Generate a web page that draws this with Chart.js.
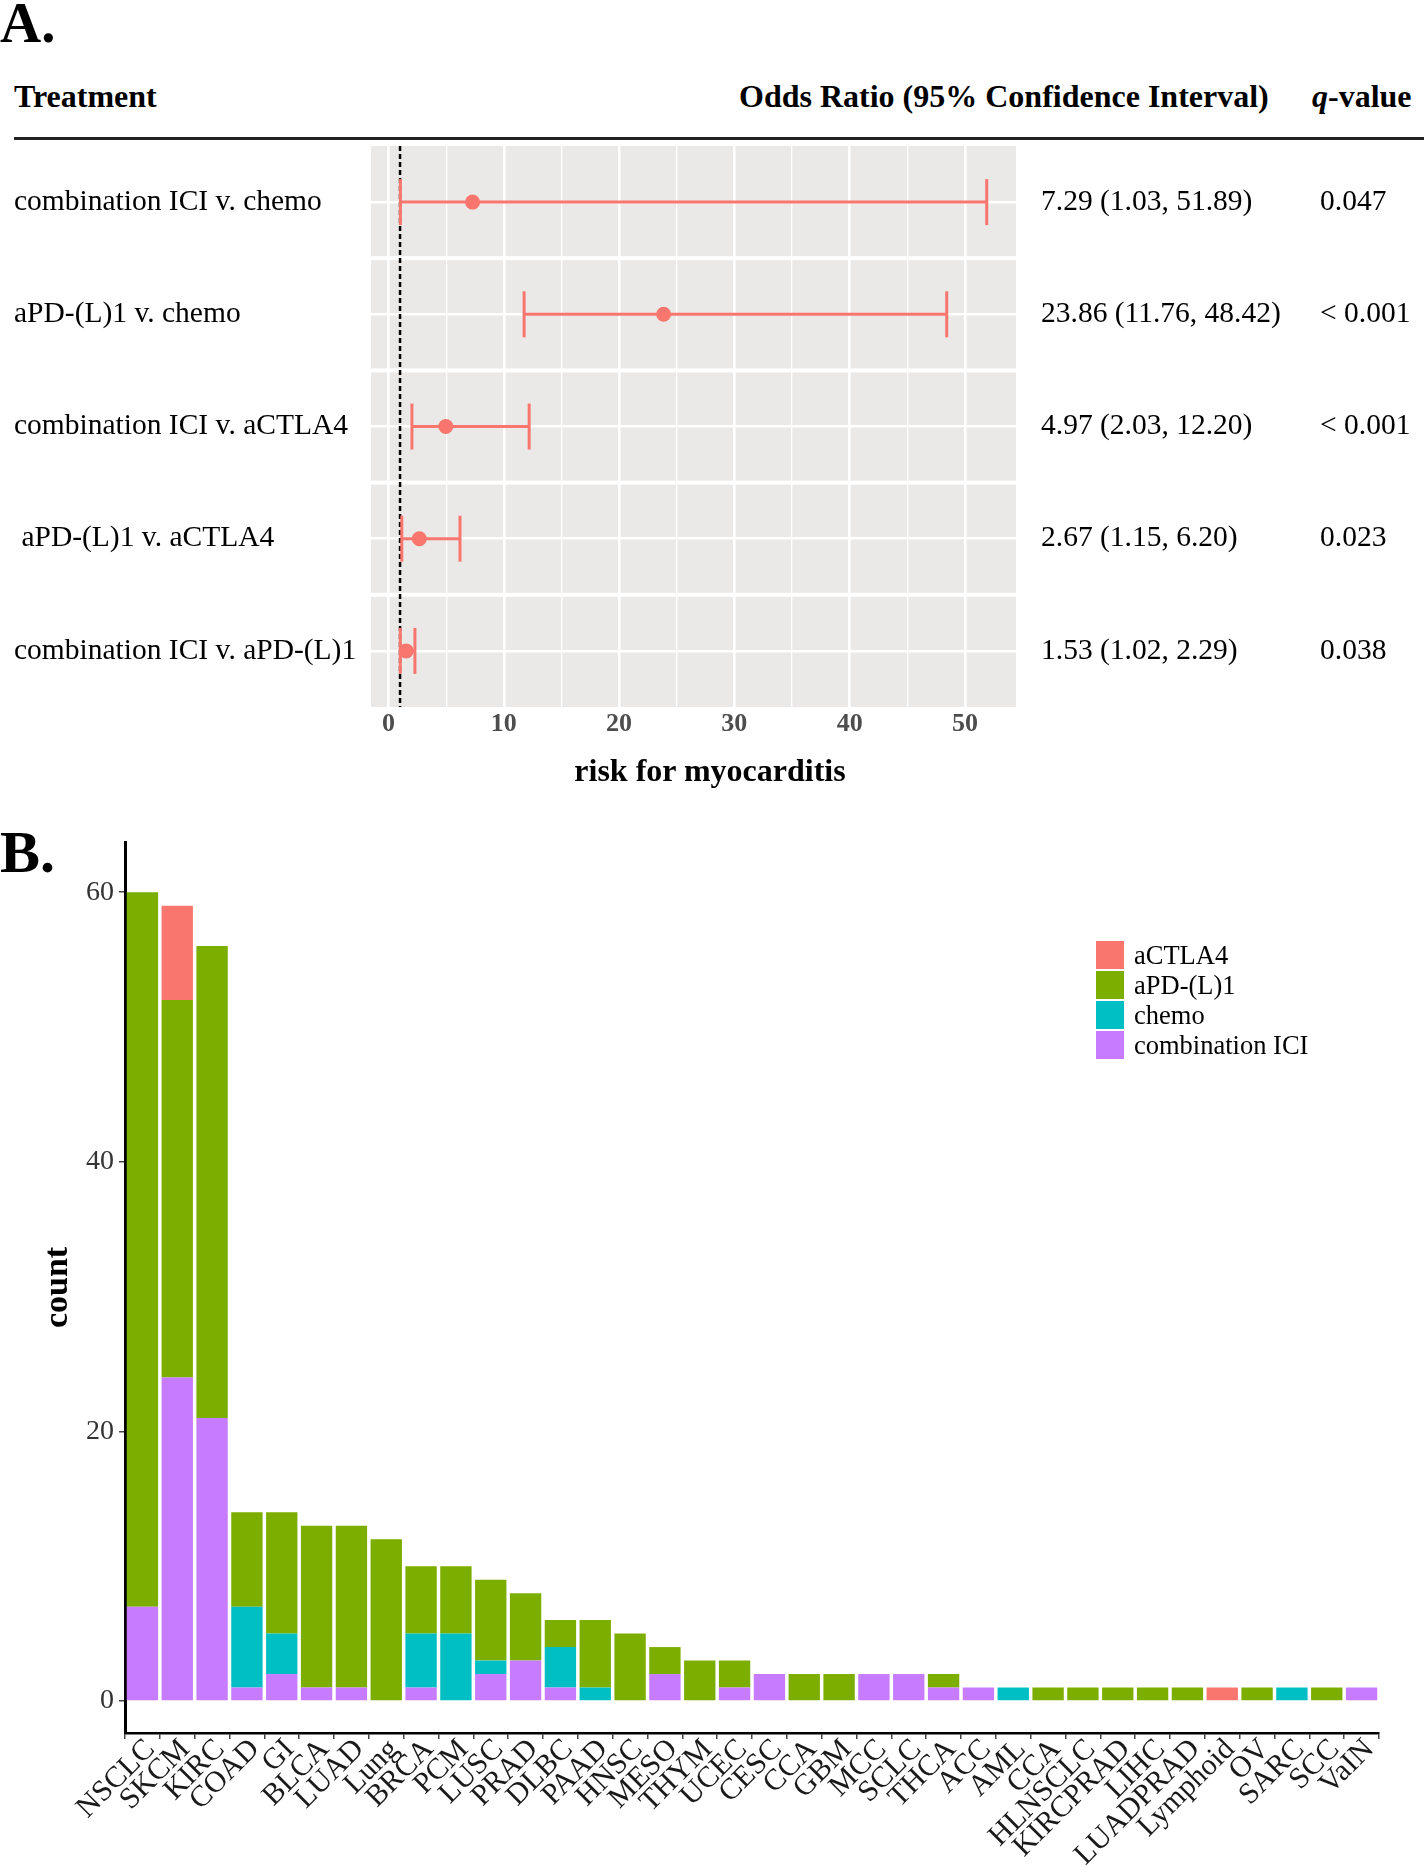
<!DOCTYPE html>
<html>
<head>
<meta charset="utf-8">
<script src="https://cdn.jsdelivr.net/npm/chart.js@4.4.1/dist/chart.umd.min.js"></script>
<style>
  html, body { margin:0; padding:0; background:#fff; }
  body { width:1424px; height:1866px; position:relative; overflow:hidden;
         font-family:"Liberation Serif","Times New Roman",serif; color:#000; }
  .txt { position:absolute; white-space:pre; line-height:1; }
  canvas { position:absolute; left:0; }
  .lg-row { display:flex; align-items:center; height:28px; margin-bottom:2px; }
  .lg-key { width:28px; height:28px; }
  .lg-lab { margin-left:10px; font-size:26.5px; line-height:28px; white-space:pre; }
</style>
</head>
<body>
<div class="txt" style="left:0;top:-6px;font-size:57px;font-weight:bold">A.</div>
<div class="txt" style="left:14px;top:80px;font-size:32px;font-weight:bold">Treatment</div>
<div class="txt" style="left:739px;top:80px;font-size:32px;font-weight:bold">Odds Ratio (95% Confidence Interval)</div>
<div class="txt" style="left:1312px;top:80px;font-size:32px;font-weight:bold"><i>q</i>-value</div>
<div style="position:absolute;left:14px;top:137px;width:1410px;height:2.5px;background:#222"></div>
<canvas id="chart-forest" width="1424" height="660" style="top:140px"></canvas>
<div class="txt" style="left:710px;top:754px;transform:translateX(-50%);font-size:32px;font-weight:bold">risk for myocarditis</div>

<div class="txt" style="left:0;top:822px;font-size:60px;font-weight:bold">B.</div>
<canvas id="chart-count" width="1424" height="1086" style="top:780px"></canvas>
<div id="legend-count" style="position:absolute;left:1096px;top:941px"></div>

<script>
/* ---------- A: odds ratios ---------- */
const treatments = ["combination ICI v. chemo", "aPD-(L)1 v. chemo", "combination ICI v. aCTLA4",
                    " aPD-(L)1 v. aCTLA4", "combination ICI v. aPD-(L)1"];
const oddsRatio  = [7.29, 23.86, 4.97, 2.67, 1.53];
const ciLow      = [1.03, 11.76, 2.03, 1.15, 1.02];
const ciHigh     = [51.89, 48.42, 12.20, 6.20, 2.29];
const qValues    = ["0.047", "< 0.001", "< 0.001", "0.023", "0.038"];
const refLine    = 1;

/* ---------- B: counts by cancer type ---------- */
const cancers = ["NSCLC","SKCM","KIRC","COAD","GI","BLCA","LUAD","Lung","BRCA","PCM","LUSC","PRAD",
                 "DLBC","PAAD","HNSC","MESO","THYM","UCEC","CESC","CCA","GBM","MCC","SCLC","THCA",
                 "ACC","AML","CCA","HLNSCLC","KIRCPRAD","LIHC","LUADPRAD","Lymphoid","OV","SARC","SCC","VaIN"];
const combinationICI = [7,24,21,1,2,1,1,0,1,0,2,3, 1,0,0,2,0,1,2,0,0,2,2,1, 1,0,0,0,0,0,0,0,0,0,0,1];
const chemo          = [0,0,0,6,3,0,0,0,4,5,1,0, 3,1,0,0,0,0,0,0,0,0,0,0, 0,1,0,0,0,0,0,0,0,1,0,0];
const aPDL1          = [53,28,35,7,9,12,12,12,5,5,6,5, 2,5,5,2,3,2,0,2,2,0,0,1, 0,0,1,1,1,1,1,0,1,0,1,0];
const aCTLA4         = [0,7,0,0,0,0,0,0,0,0,0,0, 0,0,0,0,0,0,0,0,0,0,0,0, 0,0,0,0,0,0,0,1,0,0,0,0];

const SERIF = '"Liberation Serif","Times New Roman",serif';
const SALMON = "#F8766D";
Chart.defaults.font.family = SERIF;
Chart.defaults.animation = false;

const orText = oddsRatio.map((v, i) => `${v.toFixed(2)} (${ciLow[i].toFixed(2)}, ${ciHigh[i].toFixed(2)})`);
const rowTicks = axis => { axis.ticks = treatments.map((_, i) => ({ value: i + 1 })); };
// fixed width, and no extra padding from the label heights
const fitRowAxis = w => axis => { axis.width = w; axis.paddingTop = 0; axis.paddingBottom = 0; };

// grey facet panels with white gaps between rows
const facetPanels = {
  id: "facetPanels",
  beforeDraw(chart) {
    const { ctx, chartArea: a } = chart;
    ctx.save();
    ctx.fillStyle = "#ebe9e8";
    ctx.fillRect(a.left, a.top, a.right - a.left, a.bottom - a.top);
    ctx.restore();
  },
  beforeDatasetsDraw(chart) {
    const { ctx, chartArea: a, scales: { y } } = chart;
    ctx.save();
    ctx.fillStyle = "#fff";
    for (let i = 1; i < treatments.length; i++) {
      const py = y.getPixelForValue(i + 0.5);
      ctx.fillRect(a.left, py - 2, a.right - a.left, 4);
    }
    ctx.restore();
  },
};

const forestDatasets = [
  { data: oddsRatio.map((v, i) => ({ x: v, y: i + 1 })),
    showLine: false, pointRadius: 7.5, pointBackgroundColor: SALMON, pointBorderWidth: 0 },
  ...treatments.map((_, i) => ({
    data: [{ x: ciLow[i], y: i + 1 }, { x: ciHigh[i], y: i + 1 }],
    showLine: true, borderColor: SALMON, borderWidth: 3,
    pointStyle: "line", pointRotation: 90, pointRadius: 23,
    pointBorderColor: SALMON, pointBorderWidth: 3,
  })),
  { data: [{ x: refLine, y: 0.5 }, { x: refLine, y: treatments.length + 0.5 }],
    showLine: true, borderColor: "#000", borderWidth: 2.5, borderDash: [5, 3], pointRadius: 0 },
];

new Chart(document.getElementById("chart-forest"), {
  type: "scatter",
  data: { datasets: forestDatasets },
  plugins: [facetPanels],
  options: {
    responsive: false,
    layout: { autoPadding: false, padding: { left: 14, top: 6, right: 0, bottom: 0 } },
    plugins: { legend: { display: false }, tooltip: { enabled: false } },
    scales: {
      x: {
        type: "linear", position: "bottom", min: -1.52, max: 54.43,
        afterFit: axis => { axis.height = 93; },
        border: { display: false },
        grid: { color: "#fff", lineWidth: c => (c.tick && c.tick.value % 10 === 0 ? 2.6 : 1.3), drawTicks: false },
        ticks: { stepSize: 5, includeBounds: false, autoSkip: false, maxRotation: 0, padding: 2,
                 color: "#4d4d4d", font: { size: 26, weight: "bold" },
                 callback: v => (v % 10 === 0 ? v : "") },
      },
      y: {
        type: "linear", position: "left", min: 0.5, max: treatments.length + 0.5, reverse: true,
        afterBuildTicks: rowTicks,
        afterFit: fitRowAxis(357),
        border: { display: false },
        grid: { color: "#fff", lineWidth: 2.6, drawTicks: false },
        ticks: { crossAlign: "far", padding: 0, color: "#000", font: { size: 29.5 },
                 callback: v => treatments[v - 1] },
      },
      or: {
        type: "linear", position: "right", weight: 0, min: 0.5, max: treatments.length + 0.5, reverse: true,
        afterBuildTicks: rowTicks,
        afterFit: fitRowAxis(302),
        border: { display: false }, grid: { display: false, drawTicks: false },
        ticks: { crossAlign: "near", padding: 25, color: "#000", font: { size: 29.5 },
                 callback: v => orText[v - 1] },
      },
      q: {
        type: "linear", position: "right", weight: 1, min: 0.5, max: treatments.length + 0.5, reverse: true,
        afterBuildTicks: rowTicks,
        afterFit: fitRowAxis(106),
        border: { display: false }, grid: { display: false, drawTicks: false },
        ticks: { crossAlign: "near", padding: 2, color: "#000", font: { size: 29.5 },
                 callback: v => qValues[v - 1] },
      },
    },
  },
});

/* ---------- B: stacked bar ---------- */
const countSeries = [
  { label: "combination ICI", data: combinationICI, backgroundColor: "#C77CFF" },
  { label: "chemo",           data: chemo,          backgroundColor: "#00BFC4" },
  { label: "aPD-(L)1",        data: aPDL1,          backgroundColor: "#7CAE00" },
  { label: "aCTLA4",          data: aCTLA4,         backgroundColor: "#F8766D" },
];

new Chart(document.getElementById("chart-count"), {
  type: "bar",
  data: {
    labels: cancers,
    datasets: countSeries.map(s => ({ ...s, barPercentage: 0.9, categoryPercentage: 1, borderWidth: 0 })),
  },
  options: {
    responsive: false,
    layout: { autoPadding: false, padding: { left: 0, top: 62, right: 45, bottom: 0 } },
    plugins: { legend: { display: false }, tooltip: { enabled: false } },
    scales: {
      x: {
        stacked: true,
        afterFit: axis => { axis.height = 133; },
        border: { display: true, color: "#000", width: 2.5 },
        grid: { drawOnChartArea: false, tickLength: 6, color: "#444", lineWidth: 1.5 },
        ticks: { autoSkip: false, minRotation: 45, maxRotation: 45, padding: -7, labelOffset: 8,
                 color: "#1a1a1a", font: { size: 30 } },
      },
      y: {
        stacked: true, min: -2.374, max: 63.72,
        afterFit: axis => { axis.width = 125; },
        border: { display: true, color: "#000", width: 3 },
        grid: { drawOnChartArea: false, tickLength: 6, color: "#444", lineWidth: 1.5 },
        ticks: { stepSize: 20, includeBounds: false, padding: 5, color: "#333", font: { size: 28 } },
        title: { display: true, text: "count", color: "#000",
                 font: { size: 34, weight: "bold" }, padding: { top: 38, bottom: 0 } },
      },
    },
  },
});

// legend, ggplot order (top of stack first)
const legendEl = document.getElementById("legend-count");
countSeries.slice().reverse().forEach(s => {
  const row = document.createElement("div");
  row.className = "lg-row";
  row.innerHTML = `<span class="lg-key" style="background:${s.backgroundColor}"></span><span class="lg-lab">${s.label}</span>`;
  legendEl.appendChild(row);
});
</script>
</body>
</html>
